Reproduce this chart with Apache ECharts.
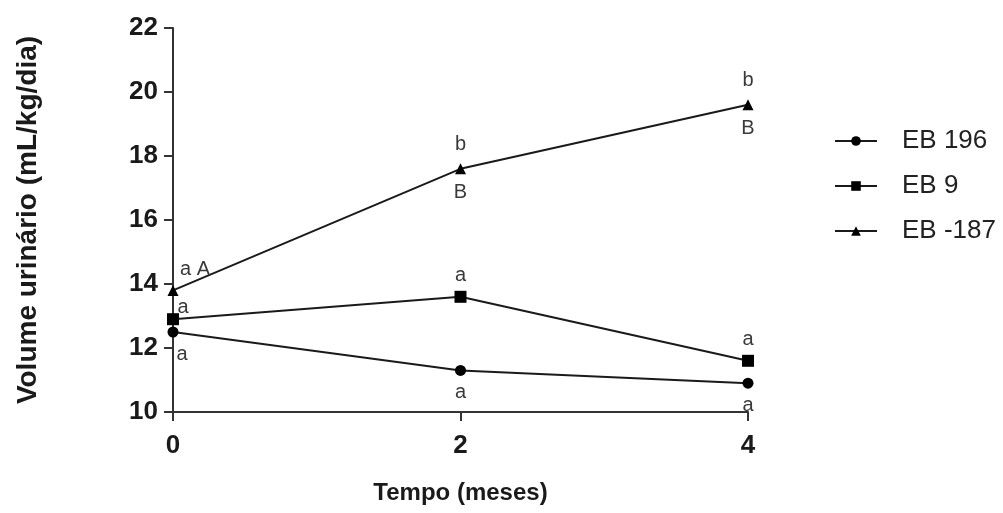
<!DOCTYPE html>
<html>
<head>
<meta charset="utf-8">
<script src="https://cdn.jsdelivr.net/npm/echarts@6/dist/echarts.min.js"></script>
<style>html,body{margin:0;padding:0;background:#fff}#c{width:1003px;height:513px}</style>
</head>
<body>
<div id="c"></div>
<script>
const months = [0, 2, 4];
const seriesNames = ['EB 196', 'EB 9', 'EB -187'];
const eb196 = [12.5, 11.3, 10.9];
const eb9 = [12.9, 13.6, 11.6];
const eb187 = [13.8, 17.6, 19.6];
const eb196Above = ['', '', ''];
const eb196Below = ['a', 'a', 'a'];
const eb9Above = ['a', 'a', 'a'];
const eb9Below = ['', '', ''];
const eb187Above = ['a A', 'b', 'b'];
const eb187Below = ['', 'B', 'B'];
const yTicks = [10, 12, 14, 16, 18, 20, 22];
const xTicks = [0, 2, 4];

const INK = '#1a1a1a';
const LBL = '#3a3a3a';
const FONT = 'Liberation Sans, Arial, sans-serif';

function buildItems(vals, above, below, firstDx) {
  return vals.map((v, i) => {
    const a = above[i], b = below[i];
    let text, dy;
    if (a && b) { text = a + '\n\n' + b; dy = 0; }
    else if (a) { text = a; dy = (i === 0 && firstDx < 15) ? -12 : -21; }
    else { text = b; dy = 22; }
    const dx = i === 0 ? firstDx : 0;
    return {
      value: [months[i], v],
      label: {
        show: true, position: 'inside', offset: [dx, dy],
        formatter: text, color: LBL, fontSize: 20, lineHeight: 24,
        fontFamily: FONT
      }
    };
  });
}

const chart = echarts.init(document.getElementById('c'), null, {renderer: 'canvas'});
chart.setOption({
  animation: false,
  backgroundColor: '#fff',
  grid: {left: 173, right: 255, top: 28, bottom: 101, containLabel: false},
  xAxis: {
    type: 'value', min: xTicks[0], max: xTicks[xTicks.length - 1], interval: 2,
    name: 'Tempo (meses)', nameLocation: 'middle', nameGap: 69,
    nameTextStyle: {fontSize: 24, fontWeight: 'bold', color: INK, fontFamily: FONT},
    axisLine: {lineStyle: {color: '#333', width: 2}},
    axisTick: {show: true, length: 9, lineStyle: {color: '#333', width: 2}},
    axisLabel: {fontSize: 26, fontWeight: 'bold', color: INK, margin: 21, fontFamily: FONT},
    splitLine: {show: false}
  },
  yAxis: {
    type: 'value', min: yTicks[0], max: yTicks[yTicks.length - 1], interval: 2,
    name: 'Volume urinário (mL/kg/dia)', nameLocation: 'middle', nameGap: 131, nameRotate: 90,
    nameTextStyle: {fontSize: 28, fontWeight: 'bold', color: INK, fontFamily: FONT},
    axisLine: {show: true, lineStyle: {color: '#333', width: 2}},
    axisTick: {show: true, length: 9, lineStyle: {color: '#333', width: 2}},
    axisLabel: {fontSize: 26, fontWeight: 'bold', color: INK, margin: 15, fontFamily: FONT},
    splitLine: {show: false}
  },
  legend: {
    orient: 'vertical', left: 829, top: 122,
    data: seriesNames,
    itemWidth: 42, itemHeight: 12, itemGap: 17,
    textStyle: {fontSize: 26, color: '#222', fontFamily: FONT, padding: [0, 0, 0, 20], lineHeight: 28}
  },
  series: [
    {name: seriesNames[0], type: 'line', symbol: 'circle', symbolSize: 11,
     data: buildItems(eb196, eb196Above, eb196Below, 9),
     lineStyle: {color: INK, width: 2}, itemStyle: {color: '#000'}},
    {name: seriesNames[1], type: 'line', symbol: 'rect', symbolSize: 12,
     data: buildItems(eb9, eb9Above, eb9Below, 10),
     lineStyle: {color: INK, width: 2}, itemStyle: {color: '#000'}},
    {name: seriesNames[2], type: 'line', symbol: 'triangle', symbolSize: 11,
     data: buildItems(eb187, eb187Above, eb187Below, 22),
     lineStyle: {color: INK, width: 2}, itemStyle: {color: '#000'}}
  ]
});
</script>
</body>
</html>
